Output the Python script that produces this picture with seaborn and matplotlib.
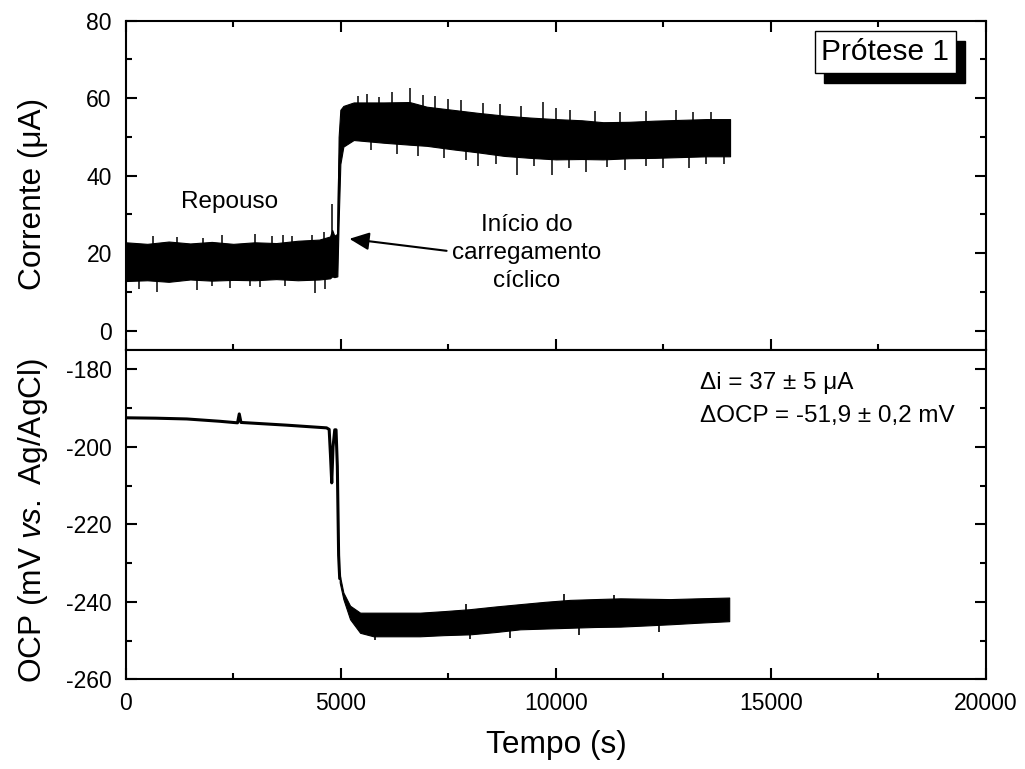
import matplotlib
matplotlib.use("Agg")
import matplotlib.pyplot as plt
import seaborn as sns
import numpy as np
from matplotlib.ticker import MultipleLocator
from matplotlib.patches import Rectangle

# ---------------- data ----------------
# Current (uA): envelope of the noisy band
cur_t  = [0, 500, 1000, 1500, 2000, 2500, 3000, 3500, 4000, 4500, 4750, 4800, 4850, 4920,
          4950, 4990, 5060, 5300, 6000, 6600, 7000, 7600, 8200, 8800, 9400, 10000,
          10600, 11100, 11700, 12300, 12900, 13500, 14050]
cur_lo = [12.8, 13.0, 12.6, 13.2, 12.9, 13.1, 13.0, 13.3, 13.0, 13.2, 13.5, 14.0, 13.8, 14.0,
          28.0, 43.0, 47.5, 49.2, 48.5, 48.0, 47.7, 46.8, 46.0, 45.1, 44.6, 44.2,
          44.3, 44.2, 44.5, 44.6, 44.8, 45.0, 45.0]
cur_hi = [22.8, 22.4, 23.0, 22.5, 22.9, 22.4, 22.8, 22.6, 23.2, 23.5, 24.3, 26.0, 24.5, 25.0,
          50.0, 57.0, 58.0, 58.9, 58.9, 59.0, 57.8, 57.0, 56.2, 55.5, 55.0, 54.6,
          54.3, 53.8, 53.9, 54.2, 54.4, 54.6, 54.6]
# isolated spikes of the current trace (time, tip value)
cur_spike_t   = [640, 1200, 1800, 2250, 3000, 3400, 3660, 3860, 4320, 4600, 4800,
                 300, 720, 1650, 2000, 2430, 2900, 3130, 3700, 4400, 4630,
                 5400, 5600, 5900, 6200, 6610, 6900, 7200, 7500, 7800, 8300, 8700, 9200,
                 9690, 10000, 10330, 10900, 11500, 12100, 12800, 13200, 13600,
                 5700, 6300, 6800, 7400, 7900, 8200, 8600, 9090, 9500, 9900, 10300, 10700,
                 11200, 11600, 12100, 12500, 13100, 13500, 13900]
cur_spike_tip = [24.5, 24.2, 24.0, 24.6, 25.0, 24.3, 24.8, 24.5, 24.8, 25.5, 32.8,
                 10.8, 10.0, 10.5, 11.4, 11.0, 11.5, 11.2, 11.6, 9.8, 10.8,
                 60.5, 61.0, 60.2, 61.5, 62.6, 60.8, 60.5, 59.8, 59.5, 58.8, 58.5, 58.0,
                 58.9, 57.5, 57.0, 56.8, 56.5, 56.7, 57.0, 56.5, 56.5,
                 46.5, 45.5, 45.2, 44.5, 44.0, 42.5, 43.0, 40.3, 42.5, 40.3, 42.0, 41.0,
                 42.2, 41.5, 42.5, 42.0, 42.0, 43.0, 43.0]

# OCP (mV vs Ag/AgCl): rest line and drop
ocp_t = [0, 700, 1420, 2190, 2600, 2640, 2680, 3740, 4670, 4730, 4760, 4790, 4820, 4860,
         4890, 4920, 4950, 4975]
ocp_v = [-192.5, -192.6, -192.8, -193.4, -193.8, -191.5, -193.7, -194.4, -195.1, -195.5,
         -202.0, -209.3, -200.0, -195.6, -195.6, -205.0, -228.0, -234.0]
# OCP noisy band after loading
band_t  = [4975, 5060, 5216, 5450, 5760, 6300, 6840, 7400, 8000, 8600, 9170, 9750, 10330,
           10900, 11500, 12100, 12660, 13300, 14030]
band_hi = [-233.0, -237.6, -241.0, -242.8, -242.8, -242.8, -242.8, -242.4, -241.9, -241.2,
           -240.6, -240.0, -239.5, -239.3, -239.1, -239.2, -239.3, -239.1, -238.9]
band_lo = [-235.0, -239.3, -244.5, -248.0, -248.9, -248.9, -248.9, -248.6, -248.4, -247.8,
           -247.1, -246.9, -246.7, -246.5, -246.4, -246.1, -245.8, -245.4, -245.0]
ocp_spike_t   = [5790, 8000, 8930, 10530, 12390, 10180, 7900, 11350]
ocp_spike_tip = [-249.8, -249.5, -249.3, -248.5, -247.8, -238.0, -240.5, -238.3]

x_ticks = [0, 5000, 10000, 15000, 20000]
# ------------------------------------------------------------

sns.set_theme(style="ticks")
plt.rcParams['font.family'] = ['Liberation Sans', 'DejaVu Sans']
plt.rcParams['mathtext.fontset'] = 'custom'
plt.rcParams['mathtext.rm'] = 'Liberation Sans'
plt.rcParams['mathtext.it'] = 'Liberation Sans:italic'
plt.rcParams['axes.unicode_minus'] = False
plt.rcParams['text.color'] = 'black'
plt.rcParams['axes.labelcolor'] = 'black'
plt.rcParams['xtick.color'] = 'black'
plt.rcParams['ytick.color'] = 'black'

W, H = 1025, 769
fig = plt.figure(figsize=(W / 100, H / 100), dpi=100)
L, R = 125.7, 986.0
ax1 = fig.add_axes([L / W, 1 - 350 / H, (R - L) / W, 329.3 / H])
ax2 = fig.add_axes([L / W, 1 - 679.3 / H, (R - L) / W, 329.3 / H])

# --- top: current
cur_mid = (np.array(cur_lo) + np.array(cur_hi)) / 2
ax1.fill_between(cur_t, cur_lo, cur_hi, color='black', lw=0.8, edgecolor='black')
sns.lineplot(x=cur_t, y=cur_mid, ax=ax1, color='black', lw=1, estimator=None)
base = np.interp(cur_spike_t, cur_t, cur_mid)
ax1.vlines(cur_spike_t, base, cur_spike_tip, color='black', lw=1.1)

# --- bottom: OCP
sns.lineplot(x=ocp_t, y=ocp_v, ax=ax2, color='black', lw=2.2, estimator=None, sort=False)
ax2.fill_between(band_t, band_lo, band_hi, color='black', lw=0.8, edgecolor='black')
bmid = (np.array(band_lo) + np.array(band_hi)) / 2
base2 = np.interp(ocp_spike_t, band_t, bmid)
ax2.vlines(ocp_spike_t, base2, ocp_spike_tip, color='black', lw=1.2)

for ax in (ax1, ax2):
    ax.set_xlim(0, 20000)
    ax.xaxis.set_major_locator(MultipleLocator(5000))
    ax.xaxis.set_minor_locator(MultipleLocator(2500))
    ax.yaxis.set_major_locator(MultipleLocator(20))
    ax.yaxis.set_minor_locator(MultipleLocator(10))
    for s in ax.spines.values():
        s.set_linewidth(1.5)
        s.set_color('black')
        s.set_visible(True)
    ax.tick_params(which='major', direction='in', length=8, width=1.5, color='black',
                   labelsize=16.5, labelcolor='black')
    ax.tick_params(which='minor', direction='in', length=4, width=1.5, color='black')
    ax.tick_params(axis='y', which='major', pad=10)
    ax.tick_params(axis='x', which='major', pad=9)
    ax.set_xlabel('')
    ax.set_ylabel('')
    ax.grid(False)

ax1.set_ylim(-5, 80)
ax2.set_ylim(-260, -175)
ax1.tick_params(which='both', top=True, right=True, bottom=True, labelbottom=False)
ax2.tick_params(which='both', top=False, right=True, bottom=True)
ax2.set_xticks(x_ticks)
ax2.set_xticklabels([str(v) for v in x_ticks])

# annotations
FS = 17.5
ax1.text(2420, 33.3, 'Repouso', fontsize=FS, ha='center', va='center')
ax1.text(9330, 20.0, 'Início do\ncarregamento\ncíclico', fontsize=FS, ha='center',
         va='center', linespacing=1.35)
ax1.annotate('', xy=(5200, 23.7), xytext=(7460, 20.6),
             arrowprops=dict(arrowstyle='-|>,head_length=1.0,head_width=0.45',
                             color='black', lw=1.5, shrinkA=0, shrinkB=0))

# Prótese 1 box with shadow
bx, by = 0.883, 0.905
box_text = ax1.text(bx, by, 'Prótese 1', transform=ax1.transAxes, fontsize=21.5,
                    ha='center', va='center', color='black', zorder=10,
                    bbox=dict(boxstyle='square,pad=0.22', fc='white', ec='black', lw=1))

ax2.text(0.668, 0.899, 'Δi = 37 ± 5 μA', transform=ax2.transAxes, fontsize=FS,
         ha='left', va='center')
ax2.text(0.668, 0.800, 'ΔOCP = -51,9 ± 0,2 mV', transform=ax2.transAxes, fontsize=FS,
         ha='left', va='center')

# axis labels
LFS = 22.8
fig.text(33 / W, 1 - 194 / H, 'Corrente (μA)', rotation=90, ha='center', va='center',
         fontsize=LFS)
fig.text(33 / W, 1 - 520 / H, r'$\mathrm{OCP\ (mV\ }\mathit{vs.}\mathrm{\ Ag/AgCl)}$',
         rotation=90, ha='center', va='center', fontsize=LFS)
fig.text(556 / W, 1 - 745 / H, 'Tempo (s)', ha='center', va='center', fontsize=LFS)

# shadow of the label box: black rectangle offset 9 px right, 10 px down
fig.canvas.draw()
bb = box_text.get_bbox_patch().get_window_extent()
shadow = Rectangle((bb.x0 + 9, bb.y0 - 10), bb.width, bb.height, transform=None,
                   facecolor='black', edgecolor='black', zorder=9)
ax1.add_artist(shadow)

fig.savefig('out.png', dpi=100, facecolor='white')
